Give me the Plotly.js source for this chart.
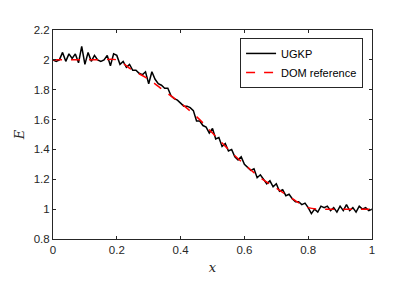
<!DOCTYPE html>
<html>
<head>
<meta charset="utf-8">
<script src="https://cdn.plot.ly/plotly-3.0.1.min.js"></script>
<style>html,body{margin:0;padding:0;background:#fff;}#chart{width:399px;height:299px;}</style>
</head>
<body>
<div id="chart"></div>
<script>
var ugkpX = [];
for (var i = 0; i <= 100; i++) ugkpX.push(+(i / 100).toFixed(2));
var ugkpE = [
  2.00, 1.99, 2.00, 2.05, 1.99, 2.04, 2.01, 2.04, 1.98, 2.09,
  1.97, 2.05, 1.99, 2.03, 2.00, 1.99, 2.00, 2.03, 1.96, 2.04,
  2.03, 1.97, 1.99, 1.95, 1.97, 1.93, 1.93, 1.91, 1.90, 1.92,
  1.84, 1.92, 1.87, 1.84, 1.83, 1.81, 1.81, 1.76, 1.74, 1.73,
  1.71, 1.69, 1.69, 1.68, 1.66, 1.59, 1.59, 1.56, 1.55, 1.51,
  1.54, 1.47, 1.48, 1.42, 1.44, 1.39, 1.40, 1.35, 1.33, 1.35,
  1.30, 1.28, 1.26, 1.27, 1.21, 1.23, 1.20, 1.17, 1.19, 1.15,
  1.17, 1.12, 1.13, 1.09, 1.10, 1.07, 1.05, 1.05, 1.03, 1.04,
  1.01, 0.97, 1.00, 0.98, 1.02, 1.01, 1.02, 0.99, 1.01, 0.98,
  1.02, 0.99, 1.03, 0.99, 1.01, 0.98, 1.02, 1.00, 1.01, 0.99,
  1.00
];
var domX = [0, 0.05, 0.1, 0.15, 0.2, 0.25, 0.3, 0.35, 0.4, 0.45, 0.5, 0.55, 0.6, 0.65, 0.7, 0.75, 0.8, 0.85, 0.9, 0.95, 1.0];
var domE = [2.0, 2.0, 2.0, 2.0, 2.0, 1.93, 1.87, 1.79, 1.71, 1.62, 1.51, 1.40, 1.30, 1.21, 1.14, 1.07, 1.01, 1.0, 1.0, 1.0, 1.0];
var xTicks = [0, 0.2, 0.4, 0.6, 0.8, 1];
var yTicks = [0.8, 1, 1.2, 1.4, 1.6, 1.8, 2, 2.2];

var axisCommon = {
  showgrid: false, zeroline: false, showline: true, linecolor: '#262626', linewidth: 1,
  mirror: 'ticks', ticks: 'inside', ticklen: 3, tickcolor: '#262626', tickwidth: 1,
  tickfont: {family: 'Liberation Sans, Arial, sans-serif', size: 11.5, color: '#262626'}
};
var layout = {
  width: 399, height: 299,
  margin: {l: 53, r: 27, t: 30, b: 60},
  paper_bgcolor: '#fff', plot_bgcolor: '#fff',
  showlegend: true,
  legend: {
    x: 0.972, y: 0.962, xanchor: 'right', yanchor: 'top',
    bordercolor: '#262626', borderwidth: 1, bgcolor: '#fff',
    font: {family: 'Liberation Sans, Arial, sans-serif', size: 11, color: '#000'},
    tracegroupgap: 0, itemwidth: 30
  },
  xaxis: Object.assign({}, axisCommon, {
    range: [0, 1], tickvals: xTicks, ticktext: xTicks.map(String),
    title: {text: '<i>x</i>', font: {family: 'DejaVu Serif, Liberation Serif, serif', size: 13, color: '#262626'}, standoff: 8}
  }),
  yaxis: Object.assign({}, axisCommon, {
    range: [0.8, 2.2], tickvals: yTicks, ticktext: yTicks.map(String),
    title: {text: '<i>E</i>', font: {family: 'DejaVu Serif, Liberation Serif, serif', size: 13, color: '#262626'}, standoff: 6}
  })
};
var traces = [
  {x: ugkpX, y: ugkpE, mode: 'lines', name: 'UGKP', line: {color: '#000', width: 1.5}},
  {x: domX, y: domE, mode: 'lines', name: 'DOM reference', line: {color: '#ff0000', width: 1.5, dash: 'dash', shape: 'spline'}}
];
Plotly.newPlot('chart', traces, layout, {staticPlot: true, displayModeBar: false});
</script>
</body>
</html>
